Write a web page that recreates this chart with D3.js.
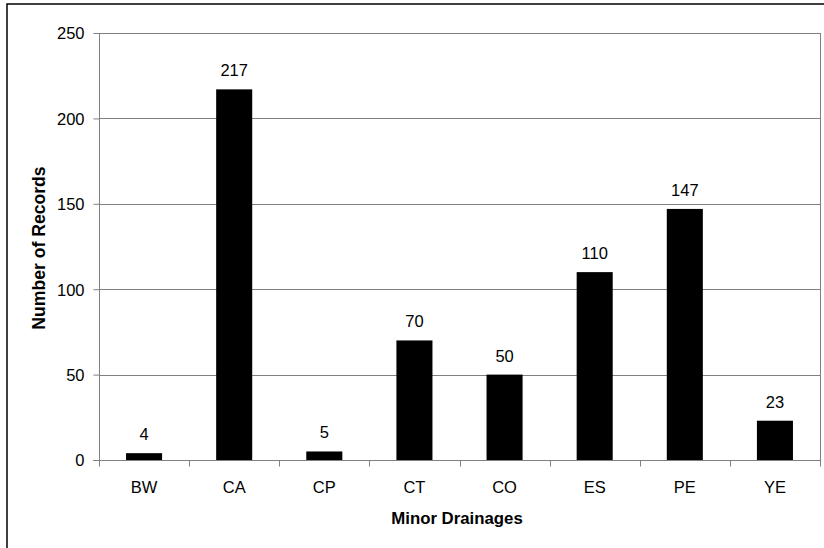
<!DOCTYPE html>
<html>
<head>
<meta charset="utf-8">
<script src="https://cdn.jsdelivr.net/npm/d3@7"></script>
<style>
  html, body { margin: 0; padding: 0; background: #fff; }
  svg { display: block; }
  text { font-family: "Liberation Sans", Arial, sans-serif; fill: #000; }
</style>
</head>
<body>
<svg id="chart" width="824" height="548"></svg>
<script>
// Records per minor drainage
const categories = ["BW", "CA", "CP", "CT", "CO", "ES", "PE", "YE"];
const records = [4, 217, 5, 70, 50, 110, 147, 23];
const yTicks = [0, 50, 100, 150, 200, 250];
const xTitle = "Minor Drainages";
const yTitle = "Number of Records";

const FS = 16.5;
const svg = d3.select("#chart");
const plot = { left: 99, right: 820, top: 33, bottom: 460 };

// outer frame of the chart object
svg.append("rect")
  .attr("x", 7).attr("y", 4)
  .attr("width", 840).attr("height", 580)
  .attr("fill", "none").attr("stroke", "#000").attr("stroke-width", 1.5);

const x = d3.scaleBand()
  .domain(categories)
  .range([plot.left, plot.right])
  .paddingInner(0.6).paddingOuter(0.3);

const y = d3.scaleLinear().domain([0, 250]).range([plot.bottom, plot.top]);

// horizontal gridlines
svg.append("g")
  .selectAll("line")
  .data(yTicks.filter(d => d > 0))
  .join("line")
  .attr("x1", plot.left).attr("x2", plot.right)
  .attr("y1", d => Math.round(y(d)) + 0.5).attr("y2", d => Math.round(y(d)) + 0.5)
  .attr("stroke", "#808080").attr("stroke-width", 1);

// right edge of plot area
svg.append("line")
  .attr("x1", plot.right + 0.5).attr("x2", plot.right + 0.5)
  .attr("y1", plot.top).attr("y2", plot.bottom)
  .attr("stroke", "#808080").attr("stroke-width", 1);

// bars
svg.append("g")
  .selectAll("rect")
  .data(categories.map((c, i) => ({ c, v: records[i] })))
  .join("rect")
  .attr("x", d => x(d.c))
  .attr("y", d => y(d.v))
  .attr("width", x.bandwidth())
  .attr("height", d => y(0) - y(d.v))
  .attr("fill", "#000");

// value labels
svg.append("g")
  .selectAll("text")
  .data(categories.map((c, i) => ({ c, v: records[i] })))
  .join("text")
  .attr("x", d => x(d.c) + x.bandwidth() / 2)
  .attr("y", d => y(d.v) - 13)
  .attr("text-anchor", "middle")
  .attr("font-size", FS)
  .text(d => d.v);

// y axis
const yAxis = svg.append("g")
  .attr("transform", `translate(${plot.left + 0.5},0)`)
  .call(d3.axisLeft(y).tickValues(yTicks).tickSize(6).tickPadding(9).tickFormat(d3.format("d")));
yAxis.select(".domain").attr("stroke", "#808080").attr("d", `M0,${plot.top}V${plot.bottom}`);
yAxis.selectAll(".tick line").attr("stroke", "#808080");
yAxis.selectAll(".tick text")
  .attr("font-size", FS)
  .attr("font-family", "Liberation Sans, Arial, sans-serif")
  .attr("fill", "#000")
  .attr("dy", "0.36em");

// x axis with ticks at category boundaries
const xAxisG = svg.append("g")
  .attr("transform", `translate(0,${Math.round(plot.bottom) + 0.5})`);
xAxisG.append("line")
  .attr("x1", plot.left - 6).attr("x2", plot.right + 1)
  .attr("stroke", "#808080");
const boundaries = d3.range(categories.length + 1).map(i => plot.left + i * (plot.right - plot.left) / categories.length);
xAxisG.selectAll("line.tk")
  .data(boundaries)
  .join("line")
  .attr("class", "tk")
  .attr("x1", d => Math.round(d) + 0.5).attr("x2", d => Math.round(d) + 0.5)
  .attr("y1", 0).attr("y2", 6)
  .attr("stroke", "#808080");
xAxisG.selectAll("text")
  .data(categories)
  .join("text")
  .attr("x", d => x(d) + x.bandwidth() / 2)
  .attr("y", 32)
  .attr("text-anchor", "middle")
  .attr("font-size", FS)
  .text(d => d);

// axis titles
svg.append("text")
  .attr("x", 457)
  .attr("y", 524)
  .attr("text-anchor", "middle")
  .attr("font-size", 16.8)
  .attr("font-weight", "bold")
  .text(xTitle);

svg.append("text")
  .attr("transform", `translate(45,248) rotate(-90)`)
  .attr("text-anchor", "middle")
  .attr("font-size", 17.6)
  .attr("font-weight", "bold")
  .text(yTitle);
</script>
</body>
</html>
